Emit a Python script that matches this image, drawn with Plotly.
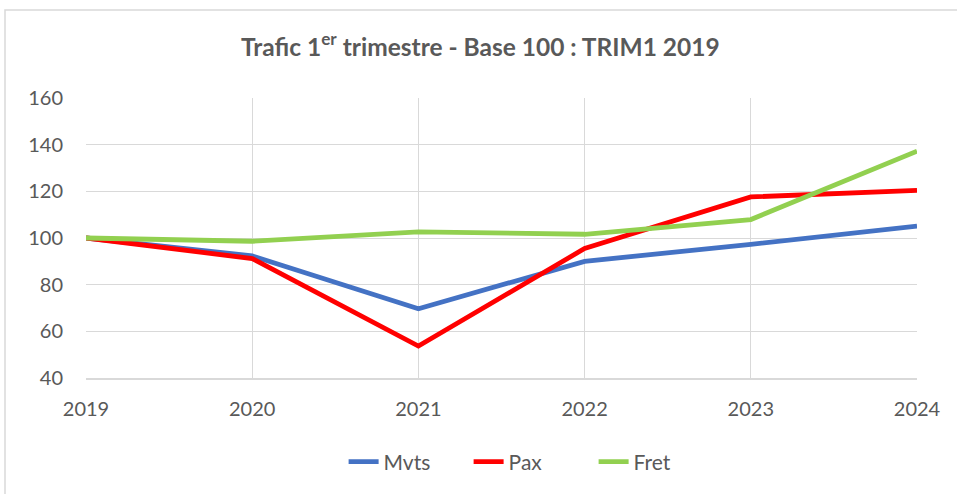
import plotly.graph_objects as go

years = [2019, 2020, 2021, 2022, 2023, 2024]
mvts = [100, 92.3, 69.7, 90.0, 97.3, 105.1]
pax = [100, 91.2, 53.7, 95.5, 117.6, 120.4]
fret = [100, 98.6, 102.6, 101.6, 107.9, 137.2]
y_ticks = [40, 60, 80, 100, 120, 140, 160]

FONT = "Lato, Open Sans, sans-serif"
TXT = "#595959"

fig = go.Figure()
for name, vals, col in [("Mvts", mvts, "#4472C4"), ("Pax", pax, "#FF0000"), ("Fret", fret, "#92D050")]:
    fig.add_trace(go.Scatter(x=years, y=vals, name=name, mode="lines",
                             line=dict(color=col, width=4.8)))

fig.update_layout(
    width=957, height=494,
    margin=dict(l=86, r=40, t=98, b=116),
    paper_bgcolor="white", plot_bgcolor="white",
    font=dict(family=FONT, color=TXT, size=19),
    title=dict(text="<b>Trafic 1<sup>er</sup> trimestre - Base 100 : TRIM1 2019</b>",
               x=0.502, xanchor="center", y=0.905, yanchor="middle",
               font=dict(family=FONT, size=24.5, color=TXT)),
    xaxis=dict(range=[2019, 2024], tickvals=years, ticktext=[str(y) for y in years],
               showgrid=True, gridcolor="#D9D9D9", gridwidth=1,
               zeroline=False, showline=True, linecolor="#D9D9D9", linewidth=1.5,
               ticks="", ticklabelstandoff=12, tickfont=dict(size=20, color=TXT)),
    yaxis=dict(range=[40, 160], tickvals=y_ticks,
               showgrid=True, gridcolor="#D9D9D9", gridwidth=1,
               zeroline=False, showline=False,
               ticks="", ticklabelstandoff=22, tickfont=dict(size=20, color=TXT)),
    legend=dict(orientation="h", x=0.310, xanchor="left", y=-0.3, yanchor="middle",
                font=dict(size=21, color=TXT), entrywidth=80, entrywidthmode="pixels",
                tracegroupgap=0),
    showlegend=True,
)

fig.add_shape(type="rect", xref="paper", yref="paper",
              x0=(5 - 86) / 831, x1=(962 - 86) / 831,
              y0=(378 - 500) / 280, y1=(378 - 10) / 280,
              line=dict(color="#D9D9D9", width=1.5), fillcolor="rgba(0,0,0,0)", layer="below")

fig.write_html("out.html", post_script="document.body.style.margin='0';",
               config={"displayModeBar": False})
